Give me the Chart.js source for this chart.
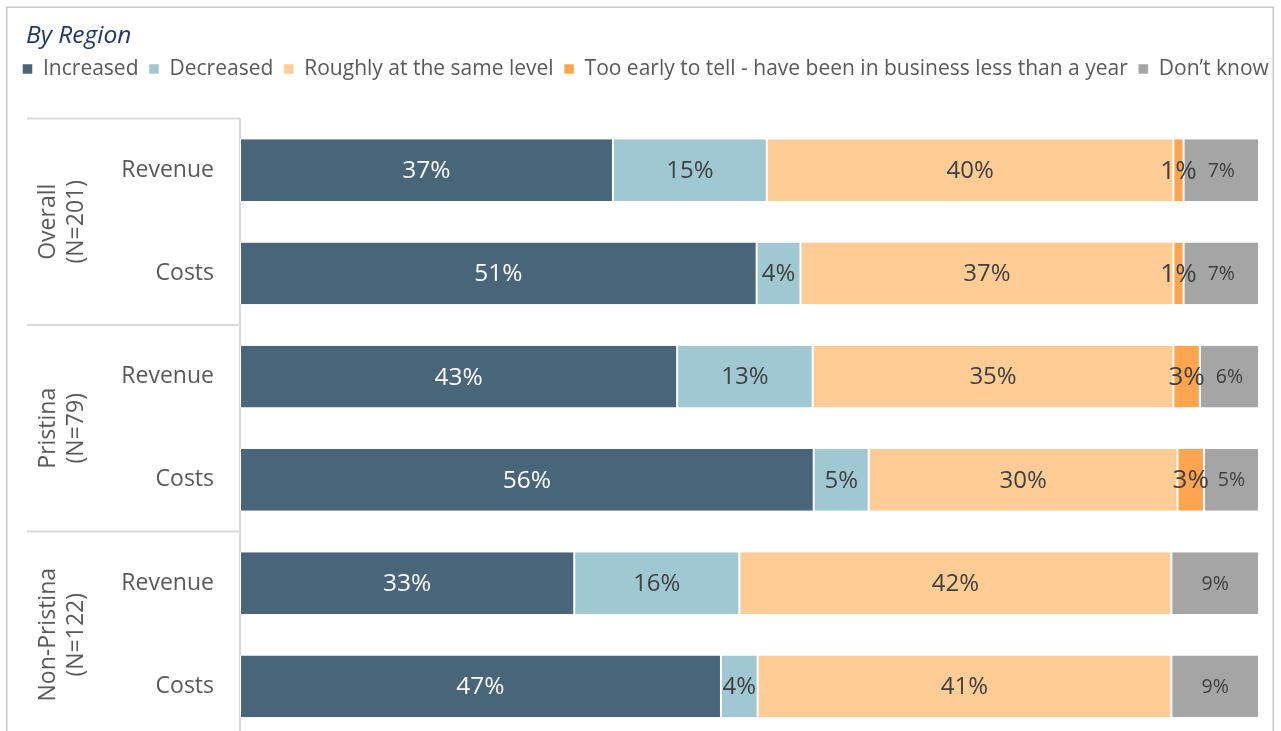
<!DOCTYPE html>
<html>
<head>
<meta charset="utf-8">
<title>By Region</title>
<script src="https://cdn.jsdelivr.net/npm/chart.js@4"></script>
<style>
    html, body { margin: 0; padding: 0; background: #fff; overflow: hidden; }
    #wrap { position: relative; width: 1281px; height: 738px; }
    #heading {
        position: absolute; left: 26px; top: 18px;
        font: italic 24.5px "Open Sans", sans-serif; line-height: 32px;
        color: #1F3864;
    }
    canvas { position: absolute; left: 0; top: 0; }
</style>
</head>
<body>
<div id="wrap">
    <canvas id="region-chart" width="1281" height="738"></canvas>
    <div id="heading">By Region</div>
</div>
<script>
// 類別與分組
const categories = ['Revenue', 'Costs', 'Revenue', 'Costs', 'Revenue', 'Costs'];
const groups = [['Overall', '(N=201)'], ['Pristina', '(N=79)'], ['Non-Pristina', '(N=122)']];

// 各系列百分比
const increased = [36.6, 50.7, 42.9, 56.3, 32.8, 47.2];
const decreased = [15.1, 4.3, 13.3, 5.4, 16.2, 3.6];
const sameLevel = [39.9, 36.6, 35.4, 30.3, 42.4, 40.6];
const tooEarly = [1.0, 1.0, 2.6, 2.6, 0, 0];
const dontKnow = [7.4, 7.4, 5.8, 5.4, 8.6, 8.6];

const seriesNames = ['Increased', 'Decreased', 'Roughly at the same level',
    'Too early to tell - have been in business less than a year', 'Don\u2019t know'];
const seriesColors = ['#49657A', '#9FC8D2', '#FECC94', '#FFA550', '#A5A5A5'];
const labelColors = ['#ffffff', '#404040', '#404040', '#404040', '#404040'];
const labelSizes = [24.5, 24, 24, 26, 19.5];

const FONT = '"Open Sans", sans-serif';
const GRID = '#D9D9D9';

const datasets = [increased, decreased, sameLevel, tooEarly, dontKnow].map((values, i) => ({
    label: seriesNames[i],
    data: values,
    backgroundColor: seriesColors[i],
    borderColor: '#ffffff',
    borderWidth: { left: 1, right: 1, top: 0, bottom: 0 },
    borderSkipped: false,
    barPercentage: 0.6,
    categoryPercentage: 1
}));

// 圖例排成一列（可超出右側留白），並與圖表之間留白
const legendSpacing = {
    id: 'legendSpacing',
    beforeInit(chart) {
        const fit = chart.legend.fit;
        chart.legend.fit = function() {
            this.maxWidth = chart.width + 40;
            fit.call(this);
            this.height += 29;
        };
    },
    afterLayout(chart) {
        chart.legend.right = chart.width + 40;
    }
};

// 外框、分組線與分組標籤
const groupAxis = {
    id: 'groupAxis',
    beforeDraw(chart) {
        const ctx = chart.ctx;
        ctx.save();
        ctx.strokeStyle = '#C8C8C8';
        ctx.lineWidth = 1.5;
        ctx.strokeRect(6.75, 7.25, 1266.5, 800);
        ctx.restore();
    },
    afterDraw(chart) {
        const ctx = chart.ctx;
        const area = chart.chartArea;
        const y = chart.scales.y;
        const x0 = 27;

        ctx.save();
        ctx.strokeStyle = GRID;
        ctx.lineWidth = 2;
        ctx.beginPath();
        ctx.moveTo(x0, area.top);
        ctx.lineTo(area.left, area.top);
        for (let g = 1; g < groups.length; g++) {
            const yy = (y.getPixelForValue(g * 2 - 1) + y.getPixelForValue(g * 2)) / 2;
            ctx.moveTo(x0, yy);
            ctx.lineTo(area.left, yy);
        }
        ctx.stroke();

        ctx.fillStyle = '#595959';
        ctx.font = '23px ' + FONT;
        ctx.textAlign = 'center';
        ctx.textBaseline = 'middle';
        groups.forEach((lines, g) => {
            const cy = (y.getPixelForValue(g * 2) + y.getPixelForValue(g * 2 + 1)) / 2;
            ctx.save();
            ctx.translate(62, cy);
            ctx.rotate(-Math.PI / 2);
            lines.forEach((line, k) => {
                ctx.fillText(line, 0, (k - (lines.length - 1) / 2) * 28);
            });
            ctx.restore();
        });
        ctx.restore();
    },
    // 柱內百分比標籤
    afterDatasetsDraw(chart) {
        const ctx = chart.ctx;
        ctx.save();
        ctx.textAlign = 'center';
        ctx.textBaseline = 'middle';
        chart.data.datasets.forEach((ds, i) => {
            const meta = chart.getDatasetMeta(i);
            ctx.fillStyle = labelColors[i];
            ctx.font = labelSizes[i] + 'px ' + FONT;
            meta.data.forEach((bar, j) => {
                const v = ds.data[j];
                if (!v) return;
                ctx.fillText(Math.round(v) + '%', (bar.x + bar.base) / 2, bar.y + 1);
            });
        });
        ctx.restore();
    }
};

new Chart(document.getElementById('region-chart'), {
    type: 'bar',
    data: { labels: categories, datasets: datasets },
    options: {
        indexAxis: 'y',
        responsive: false,
        animation: false,
        devicePixelRatio: 1,
        layout: {
            autoPadding: false,
            padding: { top: 48, right: 22, bottom: 0, left: 12 }
        },
        plugins: {
            legend: {
                position: 'top',
                align: 'start',
                labels: {
                    boxWidth: 10,
                    boxHeight: 10,
                    padding: 10.5,
                    color: '#595959',
                    font: { family: FONT, size: 21 }
                }
            },
            title: { display: false },
            tooltip: { enabled: false }
        },
        scales: {
            x: {
                stacked: true,
                min: 0,
                max: 100,
                display: false
            },
            y: {
                stacked: true,
                grid: { display: false, drawTicks: false },
                border: { display: true, color: GRID, width: 2 },
                ticks: {
                    padding: 26,
                    color: '#595959',
                    font: { family: FONT, size: 23 }
                },
                afterFit(scale) {
                    // 類別標籤都在柱列範圍內，不需上下預留空間
                    scale.width = 228;
                    scale.paddingTop = 0;
                    scale.paddingBottom = 0;
                }
            }
        }
    },
    plugins: [legendSpacing, groupAxis]
});
</script>
</body>
</html>
